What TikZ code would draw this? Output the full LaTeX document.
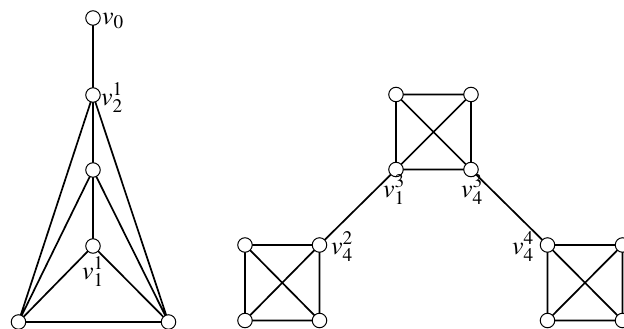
\documentclass[tikz,border=0pt]{standalone}
\usepackage{mathptmx}
\begin{document}
\begin{tikzpicture}[x=1pt,y=-1pt,
  vtx/.style={circle,draw,fill=white,line width=1pt,minimum size=14.5pt,inner sep=0pt},
  edge/.style={line width=1.7pt},
  lbl/.style={inner sep=0pt,font=\fontsize{26}{29}\selectfont}]
\useasboundingbox (0,0) rectangle (624,329);
% left graph
\coordinate (a0) at (93,18);
\coordinate (a1) at (93,95);
\coordinate (a2) at (93,170);
\coordinate (a3) at (93,246);
\coordinate (a4) at (18.5,322);
\coordinate (a5) at (168.5,322);
\draw[edge] (a0)--(a1) (a1)--(a2) (a2)--(a3)
  (a1)--(a4) (a1)--(a5) (a2)--(a4) (a2)--(a5) (a3)--(a4) (a3)--(a5) (a4)--(a5);
\foreach \n in {a0,a1,a2,a3,a4,a5} \node[vtx] (n\n) at (\n) {};
% right graph
\coordinate (t1) at (396,94.5);
\coordinate (t2) at (471,94.5);
\coordinate (t3) at (396,169.5);
\coordinate (t4) at (471,169.5);
\coordinate (l1) at (245,245);
\coordinate (l2) at (319.5,245);
\coordinate (l3) at (245,320.5);
\coordinate (l4) at (319.5,320.5);
\coordinate (r1) at (547.5,245);
\coordinate (r2) at (622.5,245);
\coordinate (r3) at (547.5,320.5);
\coordinate (r4) at (622.5,320.5);
\foreach \s in {t,l,r}{
  \draw[edge] (\s1)--(\s2) (\s1)--(\s3) (\s1)--(\s4) (\s2)--(\s3) (\s2)--(\s4) (\s3)--(\s4);
}
\draw[edge] (l2)--(t3) (t4)--(r1);
\foreach \n in {t1,t2,t3,t4,l1,l2,l3,l4,r1,r2,r3,r4} \node[vtx] (n\n) at (\n) {};
% labels
\node[lbl,anchor=base west] (L0) at (102,25) {$v_0$};
\node[lbl,anchor=base west] (L1) at (101,105) {$v_2^1$};
\node[lbl,anchor=base west] (L2) at (82,279) {$v_1^1$};
\node[lbl,anchor=base west] (L3) at (383,197) {$v_1^3$};
\node[lbl,anchor=base west] (L4) at (461,197) {$v_4^3$};
\node[lbl,anchor=base west] (L5) at (331,254) {$v_4^2$};
\node[lbl,anchor=base west] (L6) at (512,254) {$v_4^4$};
\end{tikzpicture}
\end{document}
